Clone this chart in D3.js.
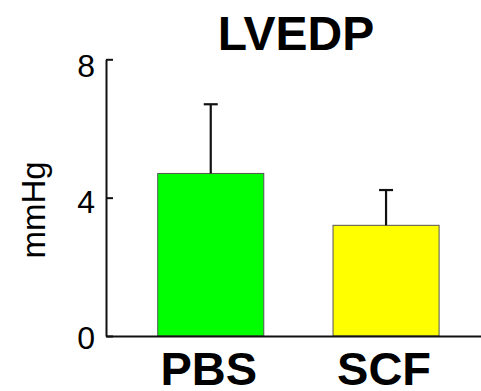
<!DOCTYPE html>
<html>
<head>
<meta charset="utf-8">
<script src="https://cdn.jsdelivr.net/npm/d3@7"></script>
<style>
  html, body { margin: 0; padding: 0; background: #fff; }
  svg { display: block; font-family: "Liberation Sans", Arial, Helvetica, sans-serif; }
</style>
</head>
<body>
<script>
// LVEDP by treatment group, mean with upward SD bar
const groups = ["PBS", "SCF"];
const means = [4.7, 3.2];
const errors = [2.0, 1.02];
const barColors = ["#00ff00", "#ffff00"];
const yTicks = [0, 4, 8];

const W = 481, H = 391;
const svg = d3.select("body").append("svg").attr("width", W).attr("height", H);

const x0 = 106, yBase = 336, yTop = 59.3;

const y = d3.scaleLinear().domain([0, 8]).range([yBase, yTop]);
// tick labels sit slightly below their ticks
const yLabel = d3.scaleLinear().domain([0, 8]).range([337.5, 65]);

const x = d3.scaleBand().domain(groups).range([x0, 490.8])
  .paddingInner(0.395).paddingOuter(0.295);

// bars
svg.selectAll("rect.bar").data(groups).join("rect")
  .attr("class", "bar")
  .attr("x", d => x(d))
  .attr("width", x.bandwidth())
  .attr("y", (d, i) => y(means[i]))
  .attr("height", (d, i) => yBase - y(means[i]))
  .attr("fill", (d, i) => barColors[i])
  .attr("stroke", "#555")
  .attr("stroke-width", 1);

// error bars (upper only)
const eb = svg.selectAll("g.err").data(groups).join("g").attr("class", "err");
eb.append("line")
  .attr("x1", d => x(d) + x.bandwidth() / 2)
  .attr("x2", d => x(d) + x.bandwidth() / 2)
  .attr("y1", (d, i) => y(means[i]))
  .attr("y2", (d, i) => y(means[i] + errors[i]))
  .attr("stroke", "#111").attr("stroke-width", 2.2);
eb.append("line")
  .attr("x1", d => x(d) + x.bandwidth() / 2 - 7)
  .attr("x2", d => x(d) + x.bandwidth() / 2 + 7)
  .attr("y1", (d, i) => y(means[i] + errors[i]))
  .attr("y2", (d, i) => y(means[i] + errors[i]))
  .attr("stroke", "#111").attr("stroke-width", 2.2);

// y axis with inward ticks
const yAxis = svg.append("g").attr("transform", `translate(${x0},0)`)
  .call(d3.axisLeft(y).tickValues(yTicks).tickSize(-7).tickSizeOuter(0).tickFormat(d3.format("d")));
yAxis.select(".domain").attr("stroke", "#111").attr("stroke-width", 2);
yAxis.selectAll(".tick line").attr("stroke", "#111").attr("stroke-width", 2);
yAxis.selectAll(".tick text")
  .attr("font-size", 32)
  .attr("font-family", "Liberation Sans, Arial, sans-serif")
  .attr("fill", "#000")
  .attr("x", -11)
  .attr("dy", d => (yLabel(d) - y(d)) + 11);

// x axis baseline running to the right edge
const xAxis = svg.append("g").attr("transform", `translate(0,${yBase})`)
  .call(d3.axisBottom(d3.scaleLinear().range([x0, W])).tickValues([]).tickSizeOuter(0));
xAxis.select(".domain").attr("stroke", "#111").attr("stroke-width", 2);

// category labels
svg.selectAll("text.cat").data(groups).join("text")
  .attr("class", "cat")
  .attr("x", d => x(d) + x.bandwidth() / 2 - 2)
  .attr("y", 385)
  .attr("text-anchor", "middle")
  .attr("font-size", 47)
  .attr("font-weight", "bold")
  .attr("fill", "#000")
  .text(d => d);

// y axis title
svg.append("text")
  .attr("transform", "translate(45,210) rotate(-90)")
  .attr("text-anchor", "middle")
  .attr("font-size", 33)
  .attr("fill", "#000")
  .text("mmHg");

// chart title
svg.append("text")
  .attr("x", 296).attr("y", 50)
  .attr("text-anchor", "middle")
  .attr("font-size", 48)
  .attr("font-weight", "bold")
  .attr("fill", "#000")
  .text("LVEDP");
</script>
</body>
</html>
